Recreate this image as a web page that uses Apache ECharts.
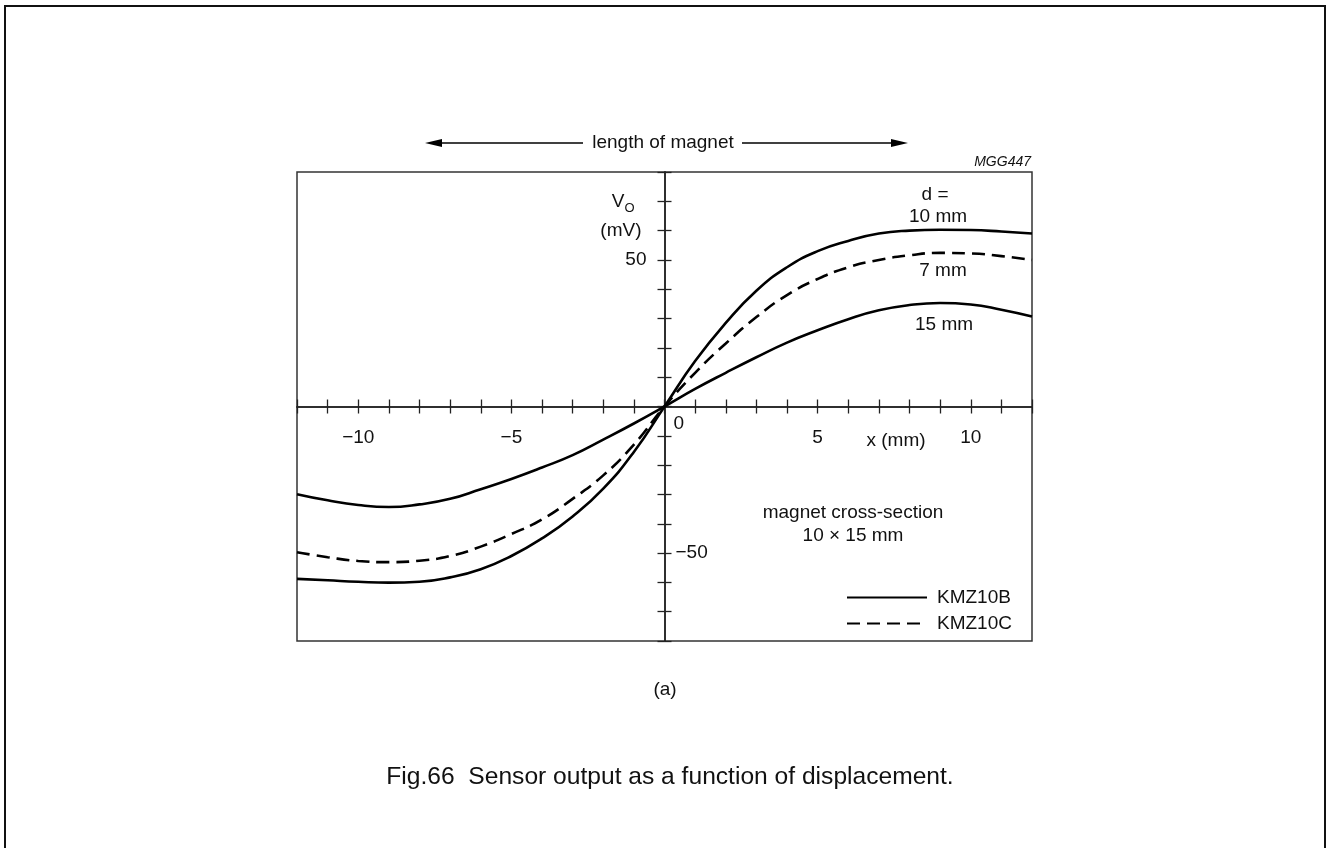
<!DOCTYPE html>
<html>
<head>
<meta charset="utf-8">
<title>Sensor output as a function of displacement</title>
<script src="https://cdn.jsdelivr.net/npm/echarts@6/dist/echarts.min.js"></script>
<style>
  html, body { margin: 0; padding: 0; background: #fff; }
  #chart { width: 1327px; height: 848px; }
</style>
</head>
<body>
<div id="chart"></div>
<script>
  // displacement x (mm)
  const xMm = [-12, -11, -10, -9, -8, -7, -6, -5, -4, -3, -2, -1, 0, 1, 2, 3, 4, 5, 6, 7, 8, 9, 10, 11, 12]
  // Vo (mV)
  const kmz10bD10 = [-58.8, -59.3, -59.8, -60.1, -59.8, -58.3, -55.5, -51, -45, -37.5, -28, -15.5, 0, 15.5, 28.5, 39.5, 47.5, 53, 56.5, 59, 60, 60.3, 60.2, 59.7, 59]
  const kmz10cD7 = [-49.7, -51.4, -52.7, -53.1, -52.6, -51, -47.8, -43.5, -38.5, -31.5, -23.5, -13, 0, 11.5, 21.5, 30.5, 38, 43.5, 47.5, 50, 51.6, 52.4, 52.2, 51.3, 50]
  const kmz10bD15 = [-29.9, -32, -33.6, -34.3, -33.4, -31.5, -28.2, -24.7, -20.8, -16.6, -11.3, -5.8, 0, 6, 11.5, 16.8, 21.8, 26, 29.8, 32.8, 34.6, 35.3, 34.8, 33, 30.7]
  // labelled ticks
  const xTickLabels = [-10, -5, 5, 10]
  const yTickLabels = { 70: '{v|V}{o|O}', 60: '{m|(mV)}', 50: '50' }
  const yTickLabelsRight = [-50]

  const FONT = '"Liberation Sans", Arial, sans-serif'
  const minus = v => String(v).replace('-', '\u2212')
  const pairs = ys => xMm.map((x, i) => [x, ys[i]])

  // grid box; the axes are shifted in to cross at (0, 0)
  const gridLeft = 297, gridTop = 172, gridW = 735, gridH = 469
  const xShift = -gridH / 2
  const yShift = -gridW / 2

  const myChart = echarts.init(document.getElementById('chart'), null, { renderer: 'canvas' })

  const axisLine = { show: true, onZero: false, lineStyle: { color: '#222', width: 1.5 } }
  const tick = inside => ({ show: true, inside: inside, length: 7, lineStyle: { color: '#222', width: 1.3 } })
  const labelFont = { fontFamily: FONT, fontSize: 19, color: '#111' }

  const xBase = {
    type: 'value', gridIndex: 0, min: -12, max: 12, interval: 1,
    position: 'bottom', offset: xShift,
    splitLine: { show: false }, axisLine: axisLine
  }
  const yBase = {
    type: 'value', gridIndex: 0, min: -80, max: 80, interval: 10,
    offset: yShift,
    splitLine: { show: false }, axisLine: axisLine
  }

  const option = {
    animation: false,
    backgroundColor: '#fff',
    textStyle: { fontFamily: FONT },
    grid: {
      left: gridLeft, top: gridTop, width: gridW, height: gridH,
      show: true, borderColor: '#333', borderWidth: 1.5,
      outerBoundsMode: 'none'
    },
    legend: {
      data: ['KMZ10B', 'KMZ10C'],
      orient: 'vertical', left: 846, top: 588, padding: 0,
      itemWidth: 80, itemHeight: 14, itemGap: 7,
      selectedMode: false,
      itemStyle: { opacity: 0 },
      textStyle: Object.assign({}, labelFont, { padding: [0, 0, 0, 5] })
    },
    xAxis: [
      Object.assign({}, xBase, {
        axisTick: tick(false),
        axisLabel: Object.assign({}, labelFont, {
          margin: 22,
          formatter: v => xTickLabels.includes(v) ? minus(v) : ''
        })
      }),
      Object.assign({}, xBase, {
        axisTick: tick(true),
        axisLabel: Object.assign({}, labelFont, {
          margin: 8, align: 'left', padding: [0, 0, 0, 9],
          formatter: v => v === 0 ? '0' : ''
        })
      })
    ],
    yAxis: [
      Object.assign({}, yBase, {
        position: 'left',
        axisTick: tick(false),
        axisLabel: Object.assign({}, labelFont, {
          margin: 18,
          formatter: v => yTickLabels[v] || '',
          rich: {
            v: labelFont,
            o: { fontFamily: FONT, fontSize: 13, color: '#111', lineHeight: 13, padding: [14, 12, 0, 0] },
            m: Object.assign({}, labelFont, { padding: [0, 5, 0, 0] })
          }
        })
      }),
      Object.assign({}, yBase, {
        position: 'right',
        axisTick: tick(false),
        axisLabel: Object.assign({}, labelFont, {
          margin: 11, padding: [4, 0, 0, 0],
          formatter: v => yTickLabelsRight.includes(v) ? minus(v) : ''
        })
      })
    ],
    series: [
      {
        name: 'KMZ10B', type: 'line', data: pairs(kmz10bD10),
        smooth: true, symbol: 'none', clip: true,
        lineStyle: { color: '#000', width: 2.6 }, itemStyle: { color: '#000' }
      },
      {
        name: 'KMZ10C', type: 'line', data: pairs(kmz10cD7),
        smooth: true, symbol: 'none', clip: true,
        lineStyle: { color: '#000', width: 2.6, type: [13, 7] }, itemStyle: { color: '#000' }
      },
      {
        name: 'KMZ10B', type: 'line', data: pairs(kmz10bD15),
        smooth: true, symbol: 'none', clip: true,
        lineStyle: { color: '#000', width: 2.6 }, itemStyle: { color: '#000' }
      }
    ],
    graphic: [
      // outer frame of the figure
      { type: 'rect', shape: { x: 5, y: 6, width: 1320, height: 860 }, style: { fill: 'none', stroke: '#111', lineWidth: 2 }, silent: true },
      // "length of magnet" arrows
      { type: 'line', shape: { x1: 438, y1: 143, x2: 583, y2: 143 }, style: { stroke: '#000', lineWidth: 1.3 } },
      { type: 'polygon', shape: { points: [[425, 143], [442, 139], [442, 147]] }, style: { fill: '#000' } },
      { type: 'line', shape: { x1: 742, y1: 143, x2: 894, y2: 143 }, style: { stroke: '#000', lineWidth: 1.3 } },
      { type: 'polygon', shape: { points: [[908, 143], [891, 139], [891, 147]] }, style: { fill: '#000' } },
      { type: 'text', x: 663, y: 143, style: { text: 'length of magnet', font: '19px ' + FONT, fill: '#111', textAlign: 'center', textVerticalAlign: 'middle' } },
      { type: 'text', x: 1031, y: 162, style: { text: 'MGG447', font: 'italic 14px ' + FONT, fill: '#111', textAlign: 'right', textVerticalAlign: 'middle' } },
      // curve labels
      { type: 'text', x: 935, y: 195, style: { text: 'd =', font: '19px ' + FONT, fill: '#111', textAlign: 'center', textVerticalAlign: 'middle' } },
      { type: 'text', x: 938, y: 217, style: { text: '10 mm', font: '19px ' + FONT, fill: '#111', textAlign: 'center', textVerticalAlign: 'middle' } },
      { type: 'text', x: 943, y: 271, style: { text: '7 mm', font: '19px ' + FONT, fill: '#111', textAlign: 'center', textVerticalAlign: 'middle' } },
      { type: 'text', x: 944, y: 325, style: { text: '15 mm', font: '19px ' + FONT, fill: '#111', textAlign: 'center', textVerticalAlign: 'middle' } },
      { type: 'text', x: 896, y: 441, style: { text: 'x (mm)', font: '19px ' + FONT, fill: '#111', textAlign: 'center', textVerticalAlign: 'middle' } },
      { type: 'text', x: 853, y: 513, style: { text: 'magnet cross-section', font: '19px ' + FONT, fill: '#111', textAlign: 'center', textVerticalAlign: 'middle' } },
      { type: 'text', x: 853, y: 536, style: { text: '10 \u00d7 15 mm', font: '19px ' + FONT, fill: '#111', textAlign: 'center', textVerticalAlign: 'middle' } },
      // sub-figure tag and caption
      { type: 'text', x: 665, y: 690, style: { text: '(a)', font: '19px ' + FONT, fill: '#111', textAlign: 'center', textVerticalAlign: 'middle' } },
      { type: 'text', x: 670, y: 777, style: { text: 'Fig.66  Sensor output as a function of displacement.', font: '24.6px ' + FONT, fill: '#111', textAlign: 'center', textVerticalAlign: 'middle' } }
    ]
  }

  myChart.setOption(option)
</script>
</body>
</html>
